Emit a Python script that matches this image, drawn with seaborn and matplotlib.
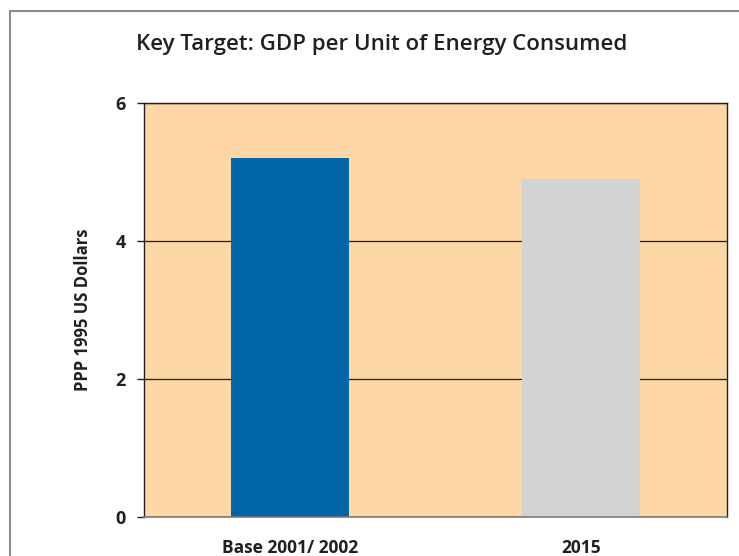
import matplotlib
matplotlib.use("Agg")
import matplotlib.pyplot as plt
import seaborn as sns
import pandas as pd
from matplotlib.patches import Rectangle

categories = ["Base 2001/ 2002", "2015"]
values = [5.2, 4.9]
bar_colors = ["#0066A6", "#D1D3D5"]
y_ticks = [0, 2, 4, 6]

sns.set_theme(style="white")
plt.rcParams["font.family"] = ["Open Sans", "DejaVu Sans"]

df = pd.DataFrame({"period": categories, "value": values})

fig = plt.figure(figsize=(7.39, 5.56), dpi=100)
ax = fig.add_axes([144 / 739, 1 - 517 / 556, (727 - 144) / 739, (517 - 103) / 556])

sns.barplot(data=df, x="period", y="value", hue="period", palette=bar_colors,
            width=0.405, legend=False, ax=ax, saturation=1,
            edgecolor="none", linewidth=0)

ax.set_facecolor("#FDD7A6")
ax.set_ylim(0, 6)
ax.set_xlim(-0.5, 1.5)
ax.set_yticks(y_ticks)
ax.set_yticklabels([str(t) for t in y_ticks], fontsize=13, fontweight="bold", color="#231F20")
ax.set_xticks(range(len(categories)))
ax.set_xticklabels(categories, fontsize=12.5, fontweight="bold", color="#231F20")
ax.tick_params(axis="x", which="major", length=0, pad=16)
ax.set_xticks([-0.5, 0.5, 1.5], minor=True)
ax.tick_params(axis="x", which="minor", length=5, width=1, color="#231F20", direction="out")
ax.tick_params(axis="y", length=5, width=1, color="#231F20", direction="out", left=True, pad=8)

ax.yaxis.grid(True, color="#231F20", linewidth=0.9)
ax.set_axisbelow(True)

for side in ["left", "top", "right"]:
    ax.spines[side].set_visible(True)
    ax.spines[side].set_color("#231F20")
    ax.spines[side].set_linewidth(1.0)
ax.spines["bottom"].set_color("#7A7A7A")
ax.spines["bottom"].set_linewidth(1.2)

ax.set_xlabel("")
ax.set_ylabel("PPP 1995 US Dollars", fontsize=12, fontweight="bold", color="#231F20", labelpad=17)

fig.text(382 / 739, 1 - 45 / 556, "Key Target: GDP per Unit of Energy Consumed",
         ha="center", va="center", fontsize=16, fontweight="semibold", color="#231F20")

# outer frame around the chart area
fig.patches.append(Rectangle((9.5 / 739, -0.1), 1.2, 1 - 11 / 556 + 0.1,
                             transform=fig.transFigure, fill=False,
                             edgecolor="#8C8C8C", linewidth=1.5, zorder=0))

fig.savefig("out.png", dpi=100)
